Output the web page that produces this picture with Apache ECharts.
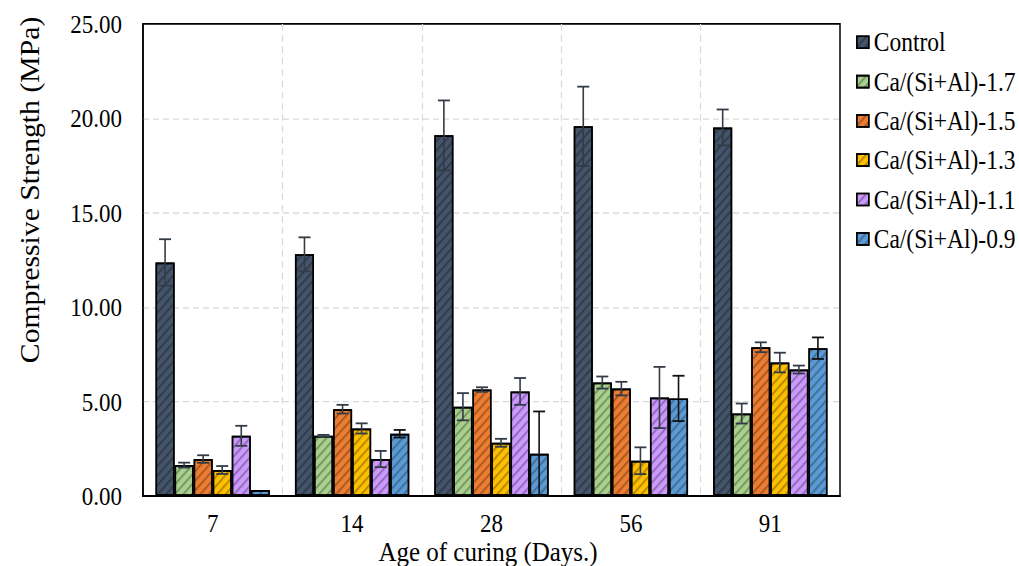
<!DOCTYPE html>
<html>
<head>
<meta charset="utf-8">
<script src="https://cdn.jsdelivr.net/npm/echarts@6/dist/echarts.min.js"></script>
<style>
  html, body { margin: 0; padding: 0; background: #fff; overflow: hidden; }
  #wrap { width: 1019px; height: 566px; overflow: hidden; }
  /* the figure is drawn on a shorter canvas and stretched vertically, giving its tall serif lettering */
  #chart { width: 1019px; height: 501px; transform: scaleY(1.1297); transform-origin: 0 0; }
  #chart text { font-family: "Liberation Serif", "Times New Roman", serif !important; }
</style>
</head>
<body>
<div id="wrap"><div id="chart"></div></div>
<script>
// Curing ages (days)
const categories = ['7', '14', '28', '56', '91'];
const seriesNames = ['Control', 'Ca/(Si+Al)-1.7', 'Ca/(Si+Al)-1.5', 'Ca/(Si+Al)-1.3', 'Ca/(Si+Al)-1.1', 'Ca/(Si+Al)-0.9'];
const yTicks = [0, 5, 10, 15, 20, 25];

// Mean compressive strength (MPa) per mix
const control = [12.37, 12.80, 19.10, 19.58, 19.52];
const mix17 = [1.64, 3.19, 4.73, 6.01, 4.37];
const mix15 = [1.96, 4.60, 5.64, 5.69, 7.88];
const mix13 = [1.38, 3.58, 2.82, 1.87, 7.07];
const mix11 = [3.19, 1.96, 5.54, 5.22, 6.70];
const mix09 = [0.32, 3.30, 2.24, 5.17, 7.83];

// Standard deviations (MPa)
const controlErr = [1.23, 0.90, 1.85, 2.10, 0.95];
const mix17Err = [0.13, 0.05, 0.72, 0.32, 0.53];
const mix15Err = [0.20, 0.23, 0.12, 0.36, 0.26];
const mix13Err = [0.21, 0.27, 0.21, 0.71, 0.52];
const mix11Err = [0.53, 0.43, 0.71, 1.62, 0.21];
const mix09Err = [0.00, 0.20, 2.24, 1.20, 0.57];

const values = [control, mix17, mix15, mix13, mix11, mix09];
const errors = [controlErr, mix17Err, mix15Err, mix13Err, mix11Err, mix09Err];
const colors = ['#44546a', '#a9d18e', '#ed7d31', '#ffc000', '#cc99ff', '#5b9bd5'];
const errColors = ['#333b47', '#333b47', '#333b47', '#333b47', '#333b47', '#111111'];

const GAP = 0.18;
const N = seriesNames.length;
const FONT = "'Liberation Serif', 'Times New Roman', serif";

const hatch = {
  symbol: 'rect',
  symbolSize: 1,
  dashArrayX: [1, 0],
  dashArrayY: [1.5, 4],
  rotation: -Math.PI / 4,
  color: 'rgba(0,0,0,0.28)'
};

const barSeries = seriesNames.map((name, i) => ({
  name: name,
  type: 'bar',
  data: values[i],
  barGap: 0,
  barCategoryGap: (GAP * 100) + '%',
  itemStyle: {
    color: colors[i],
    borderColor: '#000',
    borderWidth: 1.5,
    decal: hatch
  },
  z: 2
}));

const errData = [];
values.forEach((vals, s) => {
  vals.forEach((v, c) => {
    const e = errors[s][c];
    if (e > 0) errData.push([c, s, Math.max(0, v - e), v + e]);
  });
});

const errorSeries = {
  type: 'custom',
  name: 'error',
  data: errData,
  encode: { x: 0, y: [2, 3] },
  z: 5,
  silent: true,
  renderItem: function (params, api) {
    const c = api.value(0);
    const s = api.value(1);
    const lo = api.coord([c, api.value(2)]);
    const hi = api.coord([c, api.value(3)]);
    const band = api.size([1, 0])[0];
    const bw = band * (1 - GAP) / N;
    const x = lo[0] + (s - (N - 1) / 2) * bw;
    const cap = 6;
    const style = { stroke: errColors[s], lineWidth: 1.6 };
    return {
      type: 'group',
      children: [
        { type: 'line', shape: { x1: x, y1: lo[1], x2: x, y2: hi[1] }, style: style },
        { type: 'line', shape: { x1: x - cap, y1: hi[1], x2: x + cap, y2: hi[1] }, style: style },
        { type: 'line', shape: { x1: x - cap, y1: lo[1], x2: x + cap, y2: lo[1] }, style: style }
      ]
    };
  }
};

const gridLine = { show: true, showMinLine: false, showMaxLine: false, lineStyle: { color: '#d9d9d9', type: [6, 4], width: 1.2 } };

const chart = echarts.init(document.getElementById('chart'), null, { renderer: 'svg' });
chart.setOption({
  animation: false,
  backgroundColor: '#fff',
  aria: { enabled: true, decal: { show: true } },
  textStyle: { fontFamily: FONT },
  grid: { left: 143, right: 179, top: 21.2, bottom: 61.9, show: true, borderColor: '#000', borderWidth: 1.5, outerBoundsMode: 'none', containLabel: false },
  legend: {
    data: seriesNames,
    orient: 'vertical',
    left: 851,
    top: 20.4,
    itemWidth: 12,
    itemHeight: 10.6,
    itemGap: 10.8,
    icon: 'rect',
    textStyle: { fontFamily: FONT, fontSize: 23.5, color: '#000', lineHeight: 20 },
    itemStyle: { borderColor: '#000', borderWidth: 1.5 }
  },
  xAxis: {
    type: 'category',
    data: categories,
    name: 'Age of curing (Days.)',
    nameLocation: 'middle',
    nameGap: 38.1,
    nameMoveOverlap: false,
    nameTextStyle: { fontFamily: FONT, fontSize: 25, lineHeight: 22, color: '#000', padding: [0, 7, 0, 0] },
    axisLine: { lineStyle: { color: '#000', width: 1.5 } },
    axisTick: { show: false },
    axisLabel: { fontFamily: FONT, fontSize: 23, lineHeight: 18, color: '#000', margin: 14.8 },
    splitLine: gridLine
  },
  yAxis: {
    type: 'value',
    min: yTicks[0],
    max: yTicks[yTicks.length - 1],
    interval: yTicks[1] - yTicks[0],
    name: 'Compressive Strength (MPa)',
    nameLocation: 'middle',
    nameGap: 100,
    nameMoveOverlap: false,
    nameTextStyle: { fontFamily: FONT, fontSize: 26.3, color: '#000', padding: [0, 0, 0, 124] },
    axisLine: { show: true, lineStyle: { color: '#000', width: 1.5 } },
    axisTick: { show: false },
    axisLabel: { fontFamily: FONT, fontSize: 23, color: '#000', margin: 21, formatter: v => v.toFixed(2) },
    splitLine: gridLine
  },
  series: barSeries.concat([errorSeries])
});
</script>
</body>
</html>
